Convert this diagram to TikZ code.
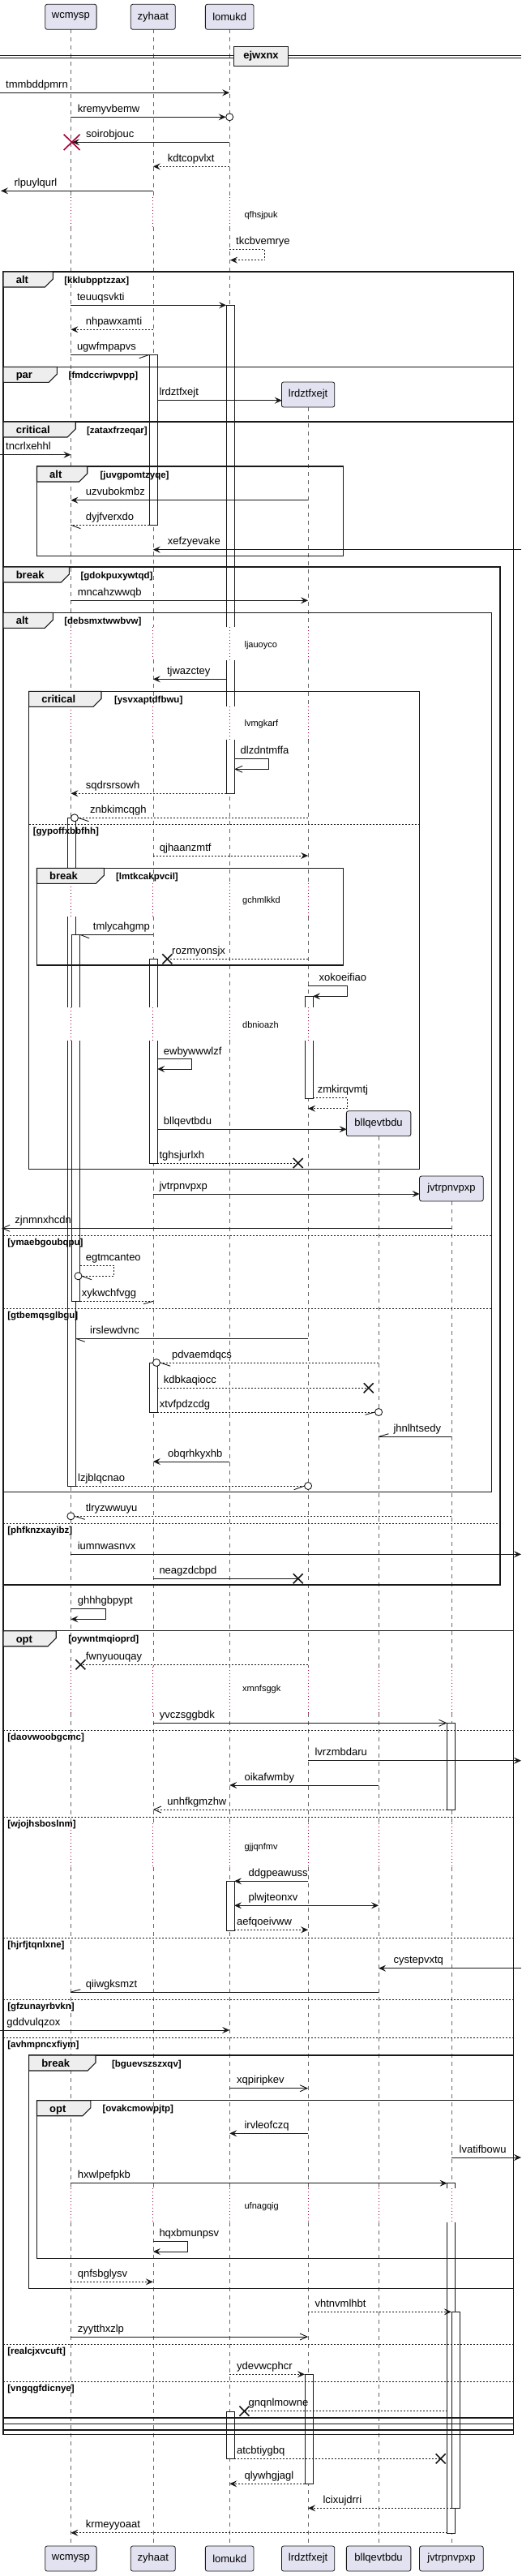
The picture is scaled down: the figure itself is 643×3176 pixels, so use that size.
\documentclass[tikz,border=0pt]{standalone}
\usepackage{fontspec}
\setmainfont{Liberation Sans}
\usetikzlibrary{arrows.meta}
\definecolor{ink}{HTML}{181818}
\definecolor{partfill}{HTML}{E2E2F0}
\definecolor{tabfill}{HTML}{EEEEEE}
\definecolor{dlyc}{HTML}{A80036}
\newcommand\msgf{\fontsize{13}{15}\selectfont}
\newcommand\condf{\fontsize{11.5}{13}\selectfont\bfseries}
\newcommand\kindf{\fontsize{13}{15}\selectfont\bfseries}
\newcommand\dlyf{\fontsize{11}{13}\selectfont}
\newcommand\segsA{36.3/243.3,280/773.3,813.3/871,911.7/1088.7,1130/1241.7,1282.7/2055,2111.7/2248.3,2301.7/2698.3,2740/3139}
\newcommand\dotsA{243.3/280,773.3/813.3,871/911.7,1088.7/1130,1241.7/1282.7,2055/2111.7,2248.3/2301.7,2698.3/2740}
\newcommand\segsB{502.2/773.3,813.3/871,911.7/1088.7,1130/1241.7,1282.7/2055,2111.7/2248.3,2301.7/2698.3,2740/3139}
\newcommand\dotsB{773.3/813.3,871/911.7,1088.7/1130,1241.7/1282.7,2055/2111.7,2248.3/2301.7,2698.3/2740}
\newcommand\segsD{2111.7/2248.3,2301.7/2698.3,2740/3139}
\newcommand\dotsD{2055/2111.7,2248.3/2301.7,2698.3/2740}
% message: name style x1 x2 y labelx label
\newcommand\Msg[7]{%
  \coordinate (#1s) at (#3,#5);
  \coordinate (#1e) at (#4,#5);
  \draw[#2] (#1s) -- (#1e);
  \node[lbl] (#1l) at (#6,#5-6) {#7};}
% self message: name style x1 xr y1 y2 x2 labelx label
\newcommand\Self[9]{%
  \coordinate (#1s) at (#3,#5);
  \coordinate (#1a) at (#4,#5);
  \coordinate (#1b) at (#4,#6);
  \coordinate (#1e) at (#7,#6);
  \draw[#2] (#1s) -- (#1a) -- (#1b) -- (#1e);
  \node[lbl] (#1l) at (#8,#5-5.5) {#9};}
\newcommand\Xm[3]{%
  \coordinate (#1) at (#2,#3);
  \draw[xst] (#2-6,#3-6) -- (#2+6,#3+6) (#2-6,#3+6) -- (#2+6,#3-6);}
\newcommand\Dly[4]{\node[dlyst] (#1) at (#2,#3) {#4};}
% group: name x1 y1 x2 y2 tabright kind cond condx
\newcommand\Grp[9]{%
  \draw[frm] (#2,#3) rectangle (#4,#5);
  \draw[tabst] (#2,#3) -- (#6,#3) -- (#6,#3+9) -- (#6-10,#3+19) -- (#2,#3+19) -- cycle;
  \node[kindst] (#1k) at (#2+15.5,#3+14.5) {#7};
  \node[condst] (#1c) at (#9,#3+14) {#8};}
\newcommand\Else[5]{%
  \draw[elsest] (#2,#4) -- (#3,#4);
  \node[condst] (#1) at (#2+5,#4+12) {#5};}
% activation: xl y1 y2 mode (0 closed,1 open bottom,2 open top,3 open both)
\newcommand\Act[4]{%
  \fill[white] (#1,#2) rectangle (#1+10,#3);
  \ifcase#4
    \draw[actl] (#1,#2) rectangle (#1+10,#3);
  \or
    \draw[actl] (#1,#3) -- (#1,#2) -- (#1+10,#2) -- (#1+10,#3);
  \or
    \draw[actl] (#1,#2) -- (#1,#3) -- (#1+10,#3) -- (#1+10,#2);
  \or
    \draw[actl] (#1,#2) -- (#1,#3) (#1+10,#2) -- (#1+10,#3);
  \fi}
\begin{document}
\begin{tikzpicture}[x=1pt,y=-1pt,
  lbl/.style={anchor=base west, inner sep=0pt, font=\msgf, text=black},
  dlyst/.style={anchor=west, inner sep=0pt, font=\dlyf, text=black},
  kindst/.style={anchor=base west, inner sep=0pt, font=\kindf},
  condst/.style={anchor=base west, inner sep=0pt, font=\condf},
  frm/.style={draw=ink, line width=1.3pt},
  tabst/.style={draw=ink, line width=1.1pt, fill=tabfill},
  elsest/.style={draw=ink, line width=0.8pt, dash pattern=on 2pt off 2pt},
  lifel/.style={draw=ink!65, line width=0.6pt, dash pattern=on 5pt off 5pt},
  dlyl/.style={draw=dlyc, line width=0.7pt, dash pattern=on 1pt off 3pt},
  actl/.style={draw=ink, line width=0.8pt},
  part/.style={draw=ink, fill=partfill, rounded corners=2.5pt, line width=0.8pt, font=\msgf, inner sep=0pt, minimum height=31pt},
  pl/.style={draw=ink, line width=0.9pt},
  dpl/.style={pl, dash pattern=on 2pt off 2pt},
  msg/.style={pl, -{Stealth[length=9pt,width=8pt,inset=3.5pt]}},
  dmsg/.style={msg, dash pattern=on 2pt off 2pt},
  bmsg/.style={pl, {Stealth[length=9pt,width=8pt,inset=3.5pt]}-{Stealth[length=9pt,width=8pt,inset=3.5pt]}},
  omsg/.style={pl, -{Straight Barb[length=9pt,width=8pt]}},
  domsg/.style={omsg, dash pattern=on 2pt off 2pt},
  circ/.style={circle, draw=ink, fill=white, line width=0.9pt, inner sep=0pt, minimum size=9pt},
  xst/.style={draw=ink, line width=1.6pt},
  redx/.style={draw=dlyc, line width=1.6pt},
  divbox/.style={draw=ink, line width=1.4pt, fill=tabfill, minimum width=66.7pt, minimum height=24.4pt, inner sep=0pt, font=\kindf}
]
\useasboundingbox (0,0) rectangle (643,3176);
\fill[white] (0,0) rectangle (643,3176);

% lifelines
\foreach \x in {87.4,188.8,283.2}{
  \foreach \a/\b in \segsA {\draw[lifel] (\x,\a) -- (\x,\b);}
  \foreach \a/\b in \dotsA {\draw[dlyl] (\x,\a) -- (\x,\b);}
}
\foreach \a/\b in \segsB {\draw[lifel] (380.1,\a) -- (380.1,\b);}
\foreach \a/\b in \dotsB {\draw[dlyl] (380.1,\a) -- (380.1,\b);}
\draw[lifel] (467.1,1401) -- (467.1,2055);
\draw[lifel] (556.9,1481) -- (556.9,2055);
\foreach \x in {467.1,556.9}{
  \foreach \a/\b in \segsD {\draw[lifel] (\x,\a) -- (\x,\b);}
  \foreach \a/\b in \dotsD {\draw[dlyl] (\x,\a) -- (\x,\b);}
}

% activations
\Act{279.1}{376.3}{773.3}{1}
\Act{279.1}{814}{871}{3}
\Act{279.1}{911.7}{978.3}{2}
\Act{279.1}{2319.3}{2380}{0}
\Act{279.1}{2973.3}{3031.3}{0}
\Act{184.3}{437.3}{647.3}{0}
\Act{184.3}{1182.3}{1241.7}{1}
\Act{184.3}{1282.7}{1434}{2}
\Act{184.3}{1680}{1741}{0}
\Act{83.2}{1008.3}{1088.7}{1}
\Act{83.2}{1130}{1241.7}{3}
\Act{83.2}{1282.7}{1832}{2}
\Act{88.2}{1152.3}{1241.7}{1}
\Act{88.2}{1282.7}{1604.3}{2}
\Act{376}{1228.3}{1241.7}{1}
\Act{376}{1282.7}{1354}{2}
\Act{376}{2927.3}{3062.3}{0}
\Act{551.6}{2124.3}{2231}{0}
\Act{551.6}{2691.7}{2698.3}{1}
\Act{551.6}{2740}{3123.3}{2}
\Act{556.9}{2850.3}{3092.7}{0}

% groups
\Grp{gA}{4.1}{335}{633.5}{3001.7}{65.4}{alt}{[kklubpptzzax]}{79.1}
\Grp{gB}{4.1}{452.3}{633.5}{2996}{70.4}{par}{[fmdccriwpvpp]}{84.5}
\Grp{gC}{4.1}{520}{633.5}{2988.3}{93.2}{critical}{[zataxfrzeqar]}{106.8}
\Grp{gD}{45.5}{575}{423.2}{685.7}{107.7}{alt}{[juvgpomtzyqe]}{123.4}
\Grp{gE}{4.1}{699}{617}{1954}{85.3}{break}{[gdokpuxywtqd]}{99.4}
\Grp{gF}{4.1}{755.3}{606.6}{1839.3}{65.4}{alt}{[debsmxtwwbvw]}{79.1}
\Grp{gG}{35.6}{852.3}{517.6}{1441.7}{125}{critical}{[ysvxaptdfbwu]}{140.8}
\Grp{gH}{45.5}{1070.3}{423.2}{1190}{128.4}{break}{[lmtkcakpvcil]}{142.9}
\Grp{gI}{4.1}{2010.7}{633.5}{2981}{69.2}{opt}{[oywntmqioprd]}{84.1}
\Grp{gJ}{35.6}{2534}{633.5}{2821.7}{118}{break}{[bguevszszxqv]}{137.9}
\Grp{gK}{45.5}{2589.7}{633.5}{2784.3}{111.8}{opt}{[ovakcmowpjtp]}{126.3}

\Else{e1}{35.6}{517.6}{1016.7}{[gypoffxbbfhh]}
\Else{e2}{4.1}{606.6}{1523.3}{[ymaebgoubqpu]}
\Else{e3}{4.1}{606.6}{1613.3}{[gtbemqsglbgu]}
\Else{e4}{4.1}{617}{1878.3}{[phfknzxayibz]}
\Else{e5}{4.1}{633.5}{2133.3}{[daovwoobgcmc]}
\Else{e6}{4.1}{633.5}{2240.7}{[wjojhsboslnm]}
\Else{e7}{4.1}{633.5}{2389}{[hjrfjtqnlxne]}
\Else{e8}{4.1}{633.5}{2465.7}{[gfzunayrbvkn]}
\Else{e9}{4.1}{633.5}{2512.7}{[avhmpncxfiym]}
\Else{e10}{4.1}{633.5}{2890}{[realcjxvcuft]}
\Else{e11}{4.1}{633.5}{2936}{[vngqgfdicnye]}

% divider
\draw[pl] (0,68.3) -- (643,68.3) (0,71) -- (643,71);
\node[divbox] (div) at (322,69.5) {ejwxnx};

% participants
\node[part,minimum width=63.4pt] (pAt) at (87.4,20.8) {wcmysp};
\node[part,minimum width=55pt] (pBt) at (188.8,20.8) {zyhaat};
\node[part,minimum width=59.7pt] (pCt) at (283.2,20.8) {lomukd};
\node[part,minimum width=65.4pt] (pDt) at (380.1,486.5) {lrdztfxejt};
\node[part,minimum width=79.5pt] (pEt) at (467.1,1385.3) {bllqevtbdu};
\node[part,minimum width=78.7pt] (pFt) at (556.9,1465.5) {jvtrpnvpxp};
\node[part,minimum width=63.4pt] (pAb) at (87.4,3154.5) {wcmysp};
\node[part,minimum width=55pt] (pBb) at (188.8,3154.5) {zyhaat};
\node[part,minimum width=59.7pt] (pCb) at (283.2,3154.5) {lomukd};
\node[part,minimum width=65.4pt] (pDb) at (380.1,3154.5) {lrdztfxejt};
\node[part,minimum width=79.5pt] (pEb) at (467.1,3154.5) {bllqevtbdu};
\node[part,minimum width=78.7pt] (pFb) at (556.9,3154.5) {jvtrpnvpxp};

% messages
\Msg{m1}{msg}{0}{283.2}{114.3}{7}{tmmbddpmrn}
\Msg{m2}{msg}{87.4}{278.7}{144.3}{95.6}{kremyvbemw}
\node[circ] (m2c) at (283.2,144.3) {};
\Msg{m3}{msg}{283.2}{89}{175.3}{106}{soirobjouc}
\draw[redx] (78.7,165.7) -- (98.6,185) (78.7,185) -- (98.6,165.7);
\Msg{m4}{dmsg}{283.2}{188.8}{205.3}{206.6}{kdtcopvlxt}
\Msg{m5}{msg}{188.8}{1}{235.3}{17.4}{rlpuylqurl}
\Dly{d1}{301.4}{265.7}{qfhsjpuk}
\Self{m6}{dmsg}{283.2}{326.7}{307.3}{320.7}{284}{291}{tkcbvemrye}
\Msg{m7}{msg}{87.4}{279.1}{376.3}{94.8}{teuuqsvkti}
\Msg{m8}{dmsg}{188.8}{87.4}{406.3}{105.6}{nhpawxamti}
\Msg{m9}{pl}{87.4}{184.3}{437.3}{94.8}{ugwfmpapvs}
\draw[pl] (m9e) -- ++(-12.5,4.4);
\Msg{m10}{msg}{194.2}{347.8}{493.7}{196.3}{lrdztfxejt}
\Msg{m11}{msg}{0}{87.4}{560.7}{7}{tncrlxehhl}
\Msg{m12}{msg}{380.1}{87.4}{616.7}{105.6}{uzvubokmbz}
\Msg{m13}{dpl}{184.3}{87.4}{647.3}{105.6}{dyjfverxdo}
\draw[pl] (m13e) -- ++(12,4.4);
\Msg{m14}{msg}{643}{188.8}{677.7}{206.6}{xefzyevake}
\Msg{m15}{msg}{87.4}{380.1}{740.3}{95.6}{mncahzwwqb}
\Dly{d2}{301.4}{795.7}{ljauoyco}
\Msg{m16}{msg}{279.1}{188.8}{837.3}{205.8}{tjwazctey}
\Dly{d3}{301.4}{892.3}{lvmgkarf}
\Self{m17}{omsg}{289}{331.7}{935.3}{948.3}{289}{296.5}{dlzdntmffa}
\Msg{m18}{dmsg}{279.1}{87.4}{978.3}{105.6}{sqdrsrsowh}
\Msg{m19}{dpl}{380.1}{96.5}{1008.3}{111}{znbkimcqgh}
\node[circ] (m19c) at (92,1008.3) {};
\draw[pl] (m19e) -- ++(13,4.4);
\Msg{m20}{dmsg}{188.8}{380.1}{1055}{196.7}{qjhaanzmtf}
\Dly{d4}{299}{1110.7}{gchmlkkd}
\Msg{m21}{pl}{188.8}{98.6}{1152.3}{114.7}{tmlycahgmp}
\draw[pl] (m21e) -- ++(11.5,4.4);
\Msg{m22}{dpl}{380.1}{206.4}{1182.3}{212}{rozmyonsjx}
\Xm{m22x}{206.4}{1182.3}
\Self{m23}{msg}{380.1}{428.6}{1215}{1228.3}{386}{393.4}{xokoeifiao}
\Dly{d5}{299}{1263.3}{dbnioazh}
\Self{m24}{msg}{194.2}{236.9}{1305.7}{1318}{194.2}{201.7}{ewbywwwlzf}
\Self{m25}{dmsg}{386}{428.6}{1353.3}{1366.7}{380.1}{391.7}{zmkirqvmtj}
\Msg{m26}{msg}{194.2}{427.7}{1392.3}{201.7}{bllqevtbdu}
\Msg{m27}{dpl}{194.2}{367.7}{1434}{196.3}{tghsjurlxh}
\Xm{m27x}{367.7}{1434}
\Msg{m28}{msg}{188.8}{517.6}{1472}{196.3}{jvtrpnvpxp}
\Msg{m29}{omsg}{556.9}{2}{1514.3}{18.2}{zjnmnxhcdn}
\Self{m30}{dpl}{98.6}{140.8}{1560.3}{1573.3}{101}{105.6}{egtmcanteo}
\node[circ] (m30c) at (96.5,1573.3) {};
\draw[pl] (m30e) -- ++(12,4.4);
\Msg{m31}{dpl}{98.6}{188.8}{1604.3}{100.6}{xykwchfvgg}
\draw[pl] (m31e) -- ++(-11.6,3.4);
\Msg{m32}{pl}{380.1}{93.6}{1650.3}{111}{irslewdvnc}
\draw[pl] (m32e) -- ++(11.2,4);
\Msg{m33}{dpl}{467.1}{197.5}{1680}{212}{pdvaemdqcs}
\node[circ] (m33c) at (193,1680) {};
\draw[pl] (m33e) -- ++(12.8,4.3);
\Msg{m34}{dpl}{194.2}{454.7}{1711.3}{201.7}{kdbkaqiocc}
\Xm{m34x}{454.7}{1711.3}
\Msg{m35}{dpl}{194.2}{462.6}{1741}{196.7}{xtvfpdzcdg}
\node[circ] (m35c) at (467.1,1741) {};
\draw[pl] (m35e) -- ++(-12.1,3.3);
\Msg{m36}{pl}{556.9}{467.1}{1771.3}{485.3}{jhnlhtsedy}
\draw[pl] (m36e) -- ++(12.4,-3.6);
\Msg{m37}{msg}{283.2}{188.8}{1802}{207}{obqrhkyxhb}
\Msg{m38}{dpl}{93.6}{375.6}{1832}{96}{lzjblqcnao}
\node[circ] (m38c) at (380.1,1832) {};
\draw[pl] (m38e) -- ++(-12.9,4.7);
\Msg{m39}{dpl}{556.9}{91.9}{1869.3}{105.6}{tlryzwwuyu}
\node[circ] (m39c) at (87.4,1869.3) {};
\draw[pl] (m39e) -- ++(12.9,4);
\Msg{m40}{msg}{87.4}{643}{1916.3}{95.6}{iumnwasnvx}
\Msg{m41}{pl}{188.8}{367.7}{1946.3}{196.3}{neagzdcbpd}
\Xm{m41x}{367.7}{1946.3}
\Self{m42}{msg}{87.4}{130.8}{1983.3}{1996.3}{87.4}{95.6}{ghhhgbpypt}
\Msg{m43}{dpl}{380.1}{99.4}{2052.3}{105.6}{fwnyuouqay}
\Xm{m43x}{99.4}{2052.3}
\Dly{d6}{299}{2083}{xmnfsggk}
\Msg{m44}{omsg}{188.8}{551.6}{2124.3}{196.7}{yvczsggbdk}
\Msg{m45}{msg}{380.1}{643}{2170.7}{388.4}{lvrzmbdaru}
\Msg{m46}{msg}{467.1}{283.2}{2201}{301.4}{oikafwmby}
\Msg{m47}{domsg}{551.6}{188.8}{2231}{206.2}{unhfkgmzhw}
\Dly{d7}{301.4}{2277.3}{gjjqnfmv}
\Msg{m48}{msg}{380.1}{289}{2319.3}{306.4}{ddgpeawuss}
\Msg{m49}{bmsg}{289}{467.1}{2349.3}{306.4}{plwjteonxv}
\Msg{m50}{dmsg}{289}{380.1}{2379.3}{291.9}{aefqoeivww}
\Msg{m51}{msg}{643}{467.1}{2426.7}{485.3}{cystepvxtq}
\Msg{m52}{pl}{467.1}{87.4}{2456}{105.6}{qiiwgksmzt}
\draw[pl] (m52e) -- ++(12,-3.3);
\Msg{m53}{msg}{0}{283.2}{2503}{8.3}{gddvulqzox}
\Msg{m54}{omsg}{283.2}{380.1}{2574.7}{291.9}{xqpiripkev}
\Msg{m55}{msg}{380.1}{283.2}{2630.3}{301.4}{irvleofczq}
\Msg{m56}{msg}{556.9}{643}{2660}{566.5}{lvatifbowu}
\Msg{m57}{msg}{87.4}{551.6}{2691.7}{95.6}{hxwlpefpkb}
\Dly{d8}{301.4}{2720.7}{ufnagqig}
\Self{m58}{msg}{188.8}{231.9}{2763.3}{2776}{188.8}{196.3}{hqxbmunpsv}
\Msg{m59}{dmsg}{87.4}{188.8}{2813.3}{95.6}{qnfsbglysv}
\Msg{m60}{dmsg}{380.1}{556.9}{2850.3}{388.4}{vhtnvmlhbt}
\Msg{m61}{omsg}{87.4}{380.1}{2881}{95.6}{zyytthxzlp}
\Msg{m62}{dmsg}{283.2}{376}{2927.3}{291.9}{ydevwcphcr}
\Msg{m63}{dpl}{551.6}{301.4}{2972.7}{306.4}{gnqnlmowne}
\Xm{m63x}{301.4}{2972.7}
\Msg{m64}{dpl}{289}{543.7}{3031.3}{291.9}{atcbtiygbq}
\Xm{m64x}{543.7}{3031.3}
\Msg{m65}{dmsg}{376}{283.2}{3062.3}{301.4}{qlywhgjagl}
\Msg{m66}{dmsg}{556.9}{380.1}{3092.3}{398.3}{lcixujdrri}
\Msg{m67}{dmsg}{551.6}{87.4}{3122.7}{105.6}{krmeyyoaat}
\end{tikzpicture}
\end{document}
